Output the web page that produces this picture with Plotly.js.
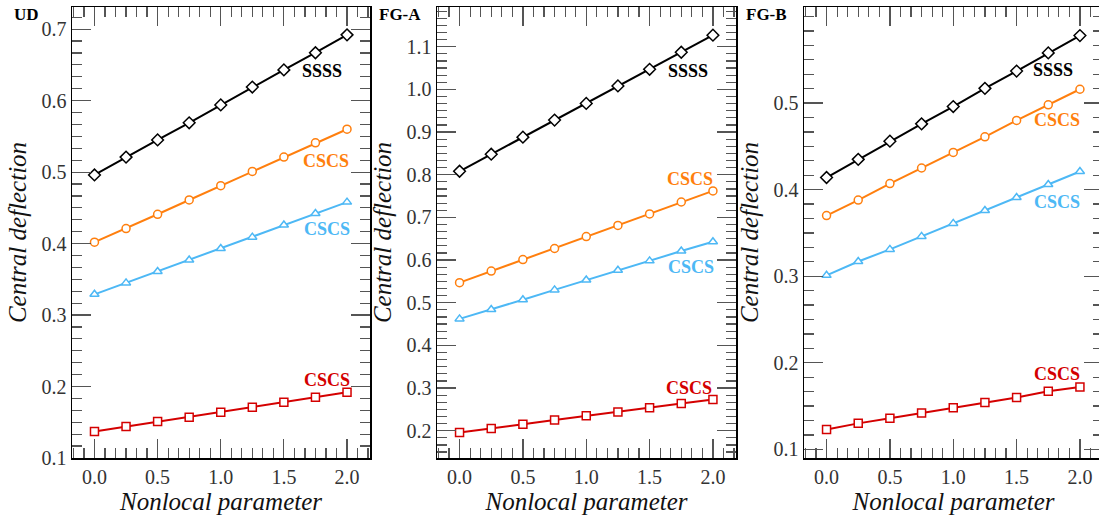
<!DOCTYPE html>
<html>
<head>
<meta charset="utf-8">
<script src="https://cdn.plot.ly/plotly-3.0.1.min.js"></script>
<style>
html,body{margin:0;padding:0;overflow:hidden;background:#fff;}
#chart{width:1104px;height:515px;}
</style>
</head>
<body>
<div id="chart"></div>
<script>
// Nonlocal parameter values
const nonlocal = [0, 0.25, 0.5, 0.75, 1.0, 1.25, 1.5, 1.75, 2.0];

// Panel titles
const panelNames = ["UD", "FG-A", "FG-B"];

// UD
const ud_SSSS   = [0.496, 0.521, 0.545, 0.569, 0.594, 0.619, 0.643, 0.667, 0.692];
const ud_CSCS_o = [0.402, 0.421, 0.441, 0.461, 0.481, 0.501, 0.521, 0.541, 0.560];
const ud_CSCS_b = [0.329, 0.345, 0.361, 0.377, 0.393, 0.409, 0.426, 0.442, 0.458];
const ud_CSCS_r = [0.137, 0.144, 0.151, 0.157, 0.164, 0.171, 0.178, 0.185, 0.192];

// FG-A
const fga_SSSS   = [0.808, 0.848, 0.888, 0.928, 0.967, 1.008, 1.047, 1.087, 1.127];
const fga_CSCS_o = [0.547, 0.574, 0.601, 0.627, 0.655, 0.681, 0.708, 0.736, 0.762];
const fga_CSCS_b = [0.462, 0.484, 0.507, 0.530, 0.553, 0.576, 0.598, 0.621, 0.643];
const fga_CSCS_r = [0.196, 0.205, 0.215, 0.225, 0.235, 0.244, 0.254, 0.264, 0.273];

// FG-B
const fgb_SSSS   = [0.414, 0.435, 0.456, 0.476, 0.496, 0.517, 0.537, 0.558, 0.578];
const fgb_CSCS_o = [0.370, 0.388, 0.407, 0.425, 0.443, 0.461, 0.480, 0.498, 0.516];
const fgb_CSCS_b = [0.301, 0.317, 0.331, 0.346, 0.361, 0.376, 0.391, 0.406, 0.421];
const fgb_CSCS_r = [0.123, 0.130, 0.136, 0.142, 0.148, 0.154, 0.160, 0.167, 0.172];

// Curve labels
const curveLabels = ["SSSS", "CSCS", "CSCS", "CSCS"];

// Tick labels
const xTicks = [0, 0.5, 1.0, 1.5, 2.0];
const yTicks = [
  [0.1, 0.2, 0.3, 0.4, 0.5, 0.6, 0.7],
  [0.2, 0.3, 0.4, 0.5, 0.6, 0.7, 0.8, 0.9, 1.0, 1.1],
  [0.1, 0.2, 0.3, 0.4, 0.5]
];

const colors = ["#000000", "#ff7f0e", "#4db8f5", "#d40000"];
const symbols = ["diamond", "circle", "triangle-up", "square"];

const panels = [
  [ud_SSSS, ud_CSCS_o, ud_CSCS_b, ud_CSCS_r],
  [fga_SSSS, fga_CSCS_o, fga_CSCS_b, fga_CSCS_r],
  [fgb_SSSS, fgb_CSCS_o, fgb_CSCS_b, fgb_CSCS_r]
];

// label anchor positions (x, y) per panel/curve
const labelPos = [
  [[1.80, 0.641], [1.83, 0.516], [1.84, 0.421], [1.84, 0.209]],
  [[1.80, 1.043], [1.82, 0.791], [1.83, 0.584], [1.81, 0.301]],
  [[1.79, 0.538], [1.82, 0.480], [1.82, 0.386], [1.82, 0.187]]
];

const SERIF = "'Liberation Serif', 'Times New Roman', serif";
const W = 1104, H = 515;
const xdom = [[72/W, 370/W], [437/W, 736/W], [804/W, 1103/W]];
const ydom = [1 - 458/H, 1 - 7/H];
const yranges = [[0.1, 0.731], [0.136, 1.193], [0.09, 0.611]];
const xrange = [-0.178, 2.182];

const traces = [];
const annotations = [];
const layout = {
  width: W, height: H,
  margin: {l: 0, r: 0, t: 0, b: 0},
  paper_bgcolor: "#fff", plot_bgcolor: "#fff",
  showlegend: false,
  font: {family: SERIF, color: "#333"}
};

const tickStyle = {ticks: "inside", ticklen: 19, tickwidth: 1.2, tickcolor: "#555"};
const minorX = {ticks: "inside", dtick: 0.5 / 6, tick0: 0, ticklen: 10, tickwidth: 1.2, tickcolor: "#555"};
const minorY = {ticks: "inside", dtick: 0.1 / 6, tick0: 0, ticklen: 10, tickwidth: 1.2, tickcolor: "#555"};

panels.forEach((series, p) => {
  const sx = p === 0 ? "" : String(p + 1);
  const ox = String(p + 4); // overlay (mirror) axes for top/right ticks
  series.forEach((vals, k) => {
    traces.push({
      x: nonlocal, y: vals, type: "scatter", mode: "lines+markers",
      xaxis: "x" + sx, yaxis: "y" + sx,
      line: {color: colors[k], width: 2},
      marker: {symbol: symbols[k], size: k === 0 ? 9 : 8, color: "#fff",
               line: {color: colors[k], width: 1.5}},
      hoverinfo: "skip"
    });
    annotations.push({
      xref: "x" + sx, yref: "y" + sx,
      x: labelPos[p][k][0], y: labelPos[p][k][1],
      text: "<b>" + curveLabels[k] + "</b>", showarrow: false,
      xanchor: "center", yanchor: "middle",
      font: {family: SERIF, size: 18, color: colors[k]}
    });
  });
  traces.push({x: [], y: [], type: "scatter", mode: "markers", xaxis: "x" + ox, yaxis: "y" + sx, hoverinfo: "skip"});
  traces.push({x: [], y: [], type: "scatter", mode: "markers", xaxis: "x" + sx, yaxis: "y" + ox, hoverinfo: "skip"});

  annotations.push({
    xref: "paper", yref: "paper",
    x: (xdom[p][0] * W - 60) / W, y: 1 - 14 / H,
    text: "<b>" + panelNames[p] + "</b>", showarrow: false,
    xanchor: "left", yanchor: "middle",
    font: {family: SERIF, size: 17, color: "#000"}
  });
  layout["xaxis" + sx] = Object.assign({
    domain: xdom[p], anchor: "y" + sx,
    range: xrange,
    tickvals: xTicks, tickformat: ".1f",
    minor: minorX,
    showline: true, linecolor: "#000", linewidth: 1.5, mirror: true,
    showgrid: false, zeroline: false,
    tickfont: {family: SERIF, size: 20, color: "#333"},
    title: {text: "<i>Nonlocal parameter</i>", standoff: 12,
            font: {family: SERIF, size: 25, color: "#111"}}
  }, tickStyle);
  layout["xaxis" + ox] = Object.assign({
    overlaying: "x" + sx, anchor: "y" + sx, side: "top",
    range: xrange, tickvals: xTicks, showticklabels: false,
    minor: minorX, showline: false, showgrid: false, zeroline: false
  }, tickStyle);
  layout["yaxis" + sx] = Object.assign({
    domain: ydom, anchor: "x" + sx,
    range: yranges[p],
    tickvals: yTicks[p], tickformat: ".1f",
    minor: minorY,
    showline: true, linecolor: "#000", linewidth: 1.5, mirror: true,
    showgrid: false, zeroline: false,
    tickfont: {family: SERIF, size: 20, color: "#333"},
    title: {text: "<i>Central deflection</i>", standoff: 8,
            font: {family: SERIF, size: 25, color: "#111"}}
  }, tickStyle);
  layout["yaxis" + ox] = Object.assign({
    overlaying: "y" + sx, anchor: "x" + sx, side: "right",
    range: yranges[p], tickvals: yTicks[p], showticklabels: false,
    minor: minorY, showline: false, showgrid: false, zeroline: false
  }, tickStyle);
});
layout.annotations = annotations;

Plotly.newPlot("chart", traces, layout, {displayModeBar: false, staticPlot: true});
</script>
</body>
</html>
